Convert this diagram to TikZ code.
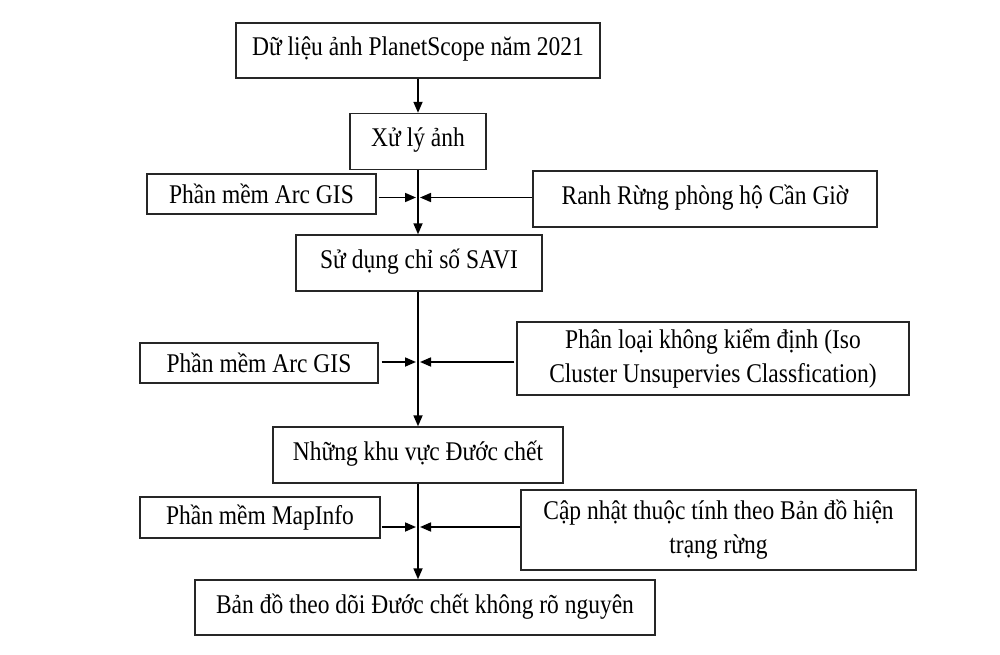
\documentclass[tikz,border=0pt]{standalone}
\usepackage{fontspec}
\setmainfont[FakeStretch=0.87]{Liberation Serif}
\usetikzlibrary{arrows.meta}
\begin{document}
\begin{tikzpicture}[x=1pt,y=-1pt,
  box/.style={draw=black!85, line width=1.4pt, inner sep=0pt, font=\fontsize{27}{34}\selectfont, align=center},
  raised/.style={text height=17pt, text depth=6pt},
  arr/.style={-{Triangle[length=11pt,width=9pt]}, line width=1.7pt},
  plain/.style={line width=1.7pt}]
\useasboundingbox[fill=white] (0,0) rectangle (1000,655);

\node[box, raised, minimum width=364pt, minimum height=55pt] (b1) at (418,50.5) {Dữ liệu ảnh PlanetScope năm 2021};
\node[box, raised, minimum width=136pt, minimum height=56pt] (b2) at (418,141.5) {Xử lý ảnh};
\node[box, minimum width=229pt, minimum height=40pt] (l1) at (261.5,194) {Phần mềm Arc GIS};
\node[box, raised, minimum width=344pt, minimum height=56pt] (r1) at (705,199) {Ranh Rừng phòng hộ Cần Giờ};
\node[box, raised, minimum width=246pt, minimum height=56pt] (b3) at (419,263) {Sử dụng chỉ số SAVI};
\node[box, minimum width=238pt, minimum height=40pt] (l2) at (259,363) {Phần mềm Arc GIS};
\node[box, minimum width=392pt, minimum height=73pt] (r2) at (713,358.5) {Phân loại không kiểm định (Iso\\Cluster Unsupervies Classfication)};
\node[box, raised, minimum width=290pt, minimum height=56pt] (b4) at (418,455) {Những khu vực Đước chết};
\node[box, minimum width=240pt, minimum height=41pt] (l3) at (260,517.5) {Phần mềm MapInfo};
\node[box, minimum width=395pt, minimum height=80pt] (r3) at (718.5,530) {Cập nhật thuộc tính theo Bản đồ hiện\\trạng rừng};
\node[box, raised, minimum width=460pt, minimum height=55pt] (b5) at (425,607.5) {Bản đồ theo dõi Đước chết không rõ nguyên};

\coordinate (j1) at (418,197.5);
\coordinate (j2) at (418,362);
\coordinate (j3) at (418,527);

\draw[arr] (b1.south) -- (b2.north);
\draw[arr] (b2.south) -- (b2.south |- b3.north);
\draw[arr] ([xshift=2pt]l1.east |- j1) -- ([xshift=-2pt]j1);
\draw[arr] (r1.west |- j1) -- ([xshift=2pt]j1);

\draw[arr] (b3.south -| j2) -- (j2 |- b4.north);
\draw[arr] ([xshift=3pt]l2.east |- j2) -- ([xshift=-2pt]j2);
\draw[arr] ([xshift=-2pt]r2.west |- j2) -- ([xshift=2pt]j2);

\draw[arr] (b4.south) -- (b4.south |- b5.north);
\draw[arr] ([xshift=1pt]l3.east |- j3) -- ([xshift=-2pt]j3);
\draw[arr] (r3.west |- j3) -- ([xshift=2pt]j3);
\end{tikzpicture}
\end{document}
